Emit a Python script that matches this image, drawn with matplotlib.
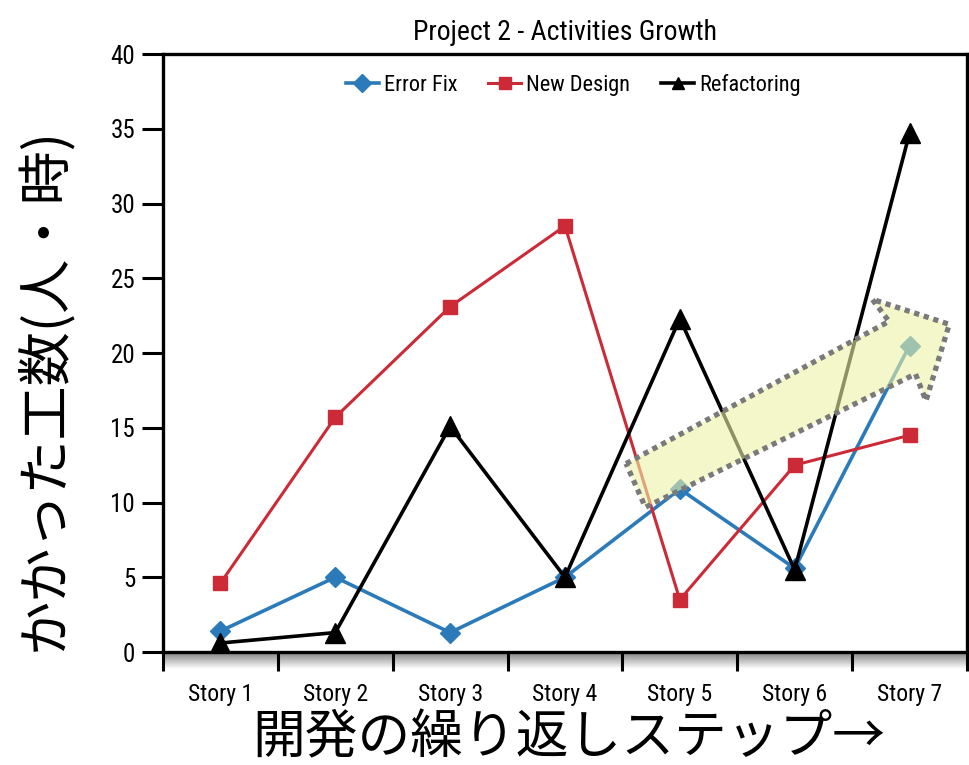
import matplotlib
matplotlib.use("Agg")
import matplotlib.pyplot as plt
import numpy as np
from matplotlib.patches import Polygon
from matplotlib import font_manager

# データ
stories = ["Story 1", "Story 2", "Story 3", "Story 4", "Story 5", "Story 6", "Story 7"]
error_fix = [1.4, 5.0, 1.3, 5.0, 10.9, 5.6, 20.5]
new_design = [4.6, 15.7, 23.1, 28.5, 3.5, 12.5, 14.5]
refactoring = [0.6, 1.3, 15.1, 5.0, 22.3, 5.5, 34.7]

# 細い欧文フォントがあれば使う
names = {f.name for f in font_manager.fontManager.ttflist}
narrow = "DejaVu Sans"
for cand in ["Liberation Sans Narrow", "Roboto Condensed", "Open Sans Condensed",
             "Liberation Sans"]:
    if cand in names:
        narrow = cand
        break
jp = ["Noto Sans CJK JP", "DejaVu Sans"]

fig = plt.figure(figsize=(9.69, 7.65), dpi=100)
ax = fig.add_axes([0.1682, 0.1477, 0.8297, 0.7817])

x = np.arange(len(stories))
ax.plot(x, error_fix, color="#2b7bba", lw=2.6, marker="D", ms=10,
        label="Error Fix", zorder=3)
ax.plot(x, new_design, color="#cc2a36", lw=2.2, marker="s", ms=10,
        label="New Design", zorder=3)
ax.plot(x, refactoring, color="black", lw=2.6, marker="^", ms=15,
        label="Refactoring", zorder=3)

ax.set_xlim(-0.5, len(stories) - 0.5)
ax.set_ylim(0, 40)
ax.set_yticks(range(0, 41, 5))

# カテゴリの境目に目盛り、ラベルは中央に
ax.set_xticks(np.arange(len(stories) + 1) - 0.5)
ax.set_xticklabels([])
ax.set_xticks(x, minor=True)
ax.set_xticklabels(stories, minor=True, family=narrow, fontsize=17)
ax.tick_params(axis="x", which="major", direction="out", length=14, width=2.2)
ax.tick_params(axis="x", which="minor", length=0, pad=22)
ax.tick_params(axis="y", direction="out", length=15, width=2.2, pad=5)
for lab in ax.get_yticklabels():
    lab.set_family(narrow)
    lab.set_fontsize(18)
for sp in ax.spines.values():
    sp.set_linewidth(2.4)

# 横軸の下の影
grad = np.linspace(0.5, 0, 40).reshape(-1, 1)
shade = np.zeros((40, 1, 4))
shade[..., 3] = grad
ax.imshow(shade, extent=(0, 1, -0.028, 0), transform=ax.transAxes,
          aspect="auto", clip_on=False, zorder=1, interpolation="bilinear")

ax.set_title("Project 2 - Activities Growth", family=narrow, fontsize=20, pad=10)

leg = ax.legend(loc="upper center", ncol=3, frameon=False,
                bbox_to_anchor=(0.51, 1.0), handlelength=1.5,
                handletextpad=0.2, columnspacing=1.4,
                prop={"family": narrow, "size": 16})
for h in leg.legend_handles:
    h.set_markersize(9)

ax.set_ylabel("かかった工数(人・時)", family=jp, fontsize=39)
ax.yaxis.set_label_coords(-0.112, 0.44)
ax.set_xlabel("開発の繰り返しステップ→", family=jp, fontsize=38)
ax.xaxis.set_label_coords(0.505, -0.097)

# 増加傾向を示す矢印
arrow_pts = [(0.576, 0.315), (0.903, 0.553), (0.882, 0.590), (0.978, 0.548),
             (0.949, 0.420), (0.936, 0.465), (0.600, 0.242)]
ax.add_patch(Polygon(arrow_pts, closed=True, transform=ax.transAxes,
                     facecolor="#edf3a6", alpha=0.6, edgecolor="none",
                     zorder=4, clip_on=False))
ax.add_patch(Polygon(arrow_pts, closed=True, transform=ax.transAxes,
                     facecolor="none", edgecolor="#7a7a7a", lw=3.8,
                     linestyle=(0, (1, 0.9)), zorder=5, clip_on=False))

fig.savefig("out.png", dpi=100)
